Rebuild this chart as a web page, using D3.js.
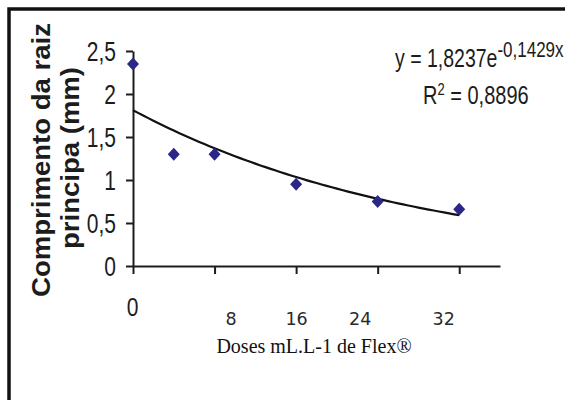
<!DOCTYPE html>
<html><head><meta charset="utf-8">
<script src="https://cdn.jsdelivr.net/npm/d3@7"></script>
<style>body{margin:0;background:#fff}svg{display:block}</style>
</head><body><svg id="c" width="565" height="400"></svg>
<script>
// ---- data ----
const doses = [0, 4, 8, 16, 24, 32];
const lengths = [2.35, 1.30, 1.30, 0.95, 0.75, 0.66];
const xTicks = [0, 8, 16, 24, 32];
const xTickLabels = ["0", "8", "16", "24", "32"];
const yTicks = [0, 0.5, 1, 1.5, 2, 2.5];
const yTickLabels = ["0", "0,5", "1", "1,5", "2", "2,5"];
const xTitle = "Doses mL.L-1 de Flex®";
const yTitleLines = ["Comprimento da raiz", "principa (mm)"];
const eqMain = "y = 1,8237e";
const eqExp = "-0,1429x";
const r2Label = "R";
const r2Value = " = 0,8896";

// ---- layout ----
const svg = d3.select("#c");
const x = d3.scaleLinear().domain([0, 36]).range([133, 500]);
const y = d3.scaleLinear().domain([0, 2.5]).range([266, 51]);
const ink = "#1c1c1c";

// frame
svg.append("path").attr("d", "M9,402V9H567").attr("fill", "none")
  .attr("stroke", "#111").attr("stroke-width", 3.5);

// exponential trend (least squares on ln y)
const lx = d3.mean(doses), ly = d3.mean(lengths, v => Math.log(v));
let sxy = 0, sxx = 0;
doses.forEach((d, i) => { sxy += (d - lx) * (Math.log(lengths[i]) - ly); sxx += (d - lx) ** 2; });
const b = sxy / sxx, a = Math.exp(ly - b * lx);
const fitX = d3.range(0, 32.01, 0.5);

// axes
const yAxis = d3.axisLeft(y).tickValues(yTicks).tickFormat((d, i) => yTickLabels[i])
  .tickSizeOuter(0).tickSizeInner(7);
const gy = svg.append("g").attr("transform", `translate(${x(0)},0)`).call(yAxis);
gy.select(".domain").attr("stroke", ink).attr("stroke-width", 2);
gy.selectAll(".tick line").attr("stroke", ink).attr("stroke-width", 2);
gy.selectAll(".tick text").attr("x", -17).attr("dy", "0.36em")
  .attr("transform", "scale(1,1.3)")
  .attr("font-family", "Liberation Sans, Arial, sans-serif").attr("font-size", 21)
  .attr("fill", ink);

const xAxis = d3.axisBottom(x).tickValues(xTicks).tickFormat((d, i) => xTickLabels[i])
  .tickSizeOuter(0).tickSizeInner(8);
const gx = svg.append("g").attr("transform", `translate(0,${y(0)})`).call(xAxis);
gx.select(".domain").attr("stroke", ink).attr("stroke-width", 2);
gx.selectAll(".tick line").attr("stroke", ink).attr("stroke-width", 2);
const xShift = [[-1, 48], [16, 59], [0, 59], [-18, 59], [-16, 59]];
gx.selectAll(".tick text")
  .attr("dy", 0)
  .attr("x", (d, i) => xShift[i][0])
  .attr("y", (d, i) => xShift[i][1])
  .attr("fill", ink)
  .each(function (d, i) {
    const t = d3.select(this);
    if (i === 0) {
      t.attr("font-family", "Liberation Sans, Arial, sans-serif").attr("font-size", 21)
       .attr("transform", "translate(0,-10) scale(1,1.25)");
    } else {
      t.attr("font-family", "DejaVu Sans, Verdana, sans-serif").attr("font-size", 17.5)
       .attr("fill", "#2a2a2a");
    }
  });

// trend line
svg.append("path").datum(fitX)
  .attr("d", d3.line().x(d => x(d)).y(d => y(a * Math.exp(b * d))))
  .attr("fill", "none").attr("stroke", "#111").attr("stroke-width", 2.2);

// markers
const diamond = { draw(ctx, s) { const w = 6, h = 6.5; ctx.moveTo(0, -h); ctx.lineTo(w, 0); ctx.lineTo(0, h); ctx.lineTo(-w, 0); ctx.closePath(); } };
svg.append("g").selectAll("path").data(doses).join("path")
  .attr("transform", (d, i) => `translate(${x(d)},${y(lengths[i])})`)
  .attr("d", d3.symbol().type(diamond)())
  .attr("fill", "#2b2787");

// x title
svg.append("text").attr("x", 314).attr("y", 353).attr("text-anchor", "middle")
  .attr("font-family", "Liberation Serif, Times New Roman, serif").attr("font-size", 20)
  .attr("fill", "#111").text(xTitle);

// y title
const yt = svg.append("g").attr("transform", "translate(0,160) rotate(-90)");
yt.append("text").attr("x", 0).attr("y", 50).attr("text-anchor", "middle")
  .attr("font-family", "Liberation Sans, Arial, sans-serif").attr("font-weight", "bold")
  .attr("font-size", 25).attr("textLength", 274).attr("lengthAdjust", "spacingAndGlyphs")
  .attr("fill", ink).text(yTitleLines[0]);
yt.append("text").attr("x", 2).attr("y", 79).attr("text-anchor", "middle")
  .attr("font-family", "Liberation Sans, Arial, sans-serif").attr("font-weight", "bold")
  .attr("font-size", 25).attr("textLength", 182).attr("lengthAdjust", "spacingAndGlyphs")
  .attr("fill", ink).text(yTitleLines[1]);

// equation
const eq = svg.append("g").attr("font-family", "Liberation Sans, Arial, sans-serif").attr("fill", ink);
const l1 = eq.append("text").attr("transform", "translate(395,67) scale(1,1.3)").attr("font-size", 19.5);
l1.append("tspan").text(eqMain);
l1.append("tspan").attr("font-size", 17).attr("dy", -8).text(eqExp);
const l2 = eq.append("text").attr("transform", "translate(423,104) scale(1,1.3)").attr("font-size", 20);
l2.append("tspan").text(r2Label);
l2.append("tspan").attr("font-size", 13).attr("dy", -7).text("2");
l2.append("tspan").attr("dy", 7).text(r2Value);
</script></body></html>
